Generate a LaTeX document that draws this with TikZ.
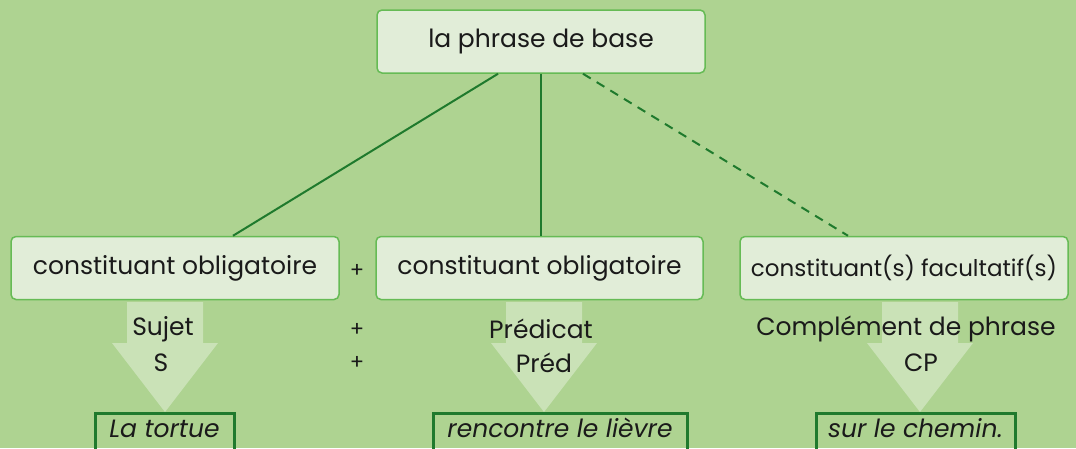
\documentclass[tikz,border=0pt]{standalone}
\usepackage{fontspec}
\setmainfont{Poppins}
\definecolor{fond}{HTML}{AED391}
\definecolor{boite}{HTML}{E1EDD8}
\definecolor{bord}{HTML}{66BB55}
\definecolor{trait}{HTML}{1F7A2D}
\definecolor{encre}{HTML}{1A1A1A}
\tikzset{
  constituant/.style={draw=bord,fill=boite,line width=1.5pt,rounded corners=5pt,
    minimum width=328pt,minimum height=63pt,inner xsep=2pt,text=encre,font=\fontsize{25}{28}\selectfont},
  exemple/.style={draw=trait,line width=3pt,minimum height=40pt,inner sep=0pt,anchor=north,
    text height=18pt,text depth=10pt,text=encre,font=\fontsize{25}{28}\selectfont\itshape},
  etiquette/.style={text=encre,font=\fontsize{25}{28}\selectfont},
  plus/.style={text=encre,font=\fontsize{21}{24}\selectfont}
}
\begin{document}
\begin{tikzpicture}[x=1pt,y=-1pt]
\fill[fond] (0,0) rectangle (1076,448);
\useasboundingbox (0,0) rectangle (1076,448);
% fleches
\foreach \x in {165,544,920}
  \fill[white,opacity=0.35] (\x-38,302) -- (\x+38,302) -- (\x+38,343) -- (\x+53,343)
    -- (\x,412) -- (\x-53,343) -- (\x-38,343) -- cycle;
\node[constituant] (base) at (541,41.5) {la phrase de base};
\node[constituant] (oblig1) at (175,268) {constituant obligatoire};
\node[constituant,minimum width=327pt] (oblig2) at (539.5,268) {constituant obligatoire};
\node[constituant,font=\fontsize{23}{26}\selectfont] (facult) at (904,268) {constituant(s) facultatif(s)};

\draw[trait,line width=2pt] ([xshift=-43pt]base.south) -- ([xshift=58pt]oblig1.north);
\draw[trait,line width=2pt] (base.south) -- (base.south |- oblig2.north);
\draw[trait,line width=2pt,dash pattern=on 9pt off 7pt] ([xshift=42pt]base.south) -- ([xshift=-56pt]facult.north);

\node[plus] (p1) at (357,271) {+};
\node[plus] (p2) at (357,330) {+};
\node[plus] (p3) at (357,363) {+};

\node[etiquette] (sujet) at (163,329) {Sujet};
\node[etiquette] (s) at (161,363) {S};
\node[etiquette] (predicat) at (541,329) {Prédicat};
\node[etiquette] (pred) at (544,363) {Préd};
\node[etiquette] (cdp) at (906,329) {Complément de phrase};
\node[etiquette] (cp) at (921,363) {CP};

\node[exemple,minimum width=139pt] (tortue) at (164.5,411.5) {La tortue};
\node[exemple,minimum width=254pt] (lievre) at (560,411.5) {rencontre le lièvre};
\node[exemple,minimum width=199pt] (chemin) at (915.5,411.5) {sur le chemin.};
\end{tikzpicture}
\end{document}
